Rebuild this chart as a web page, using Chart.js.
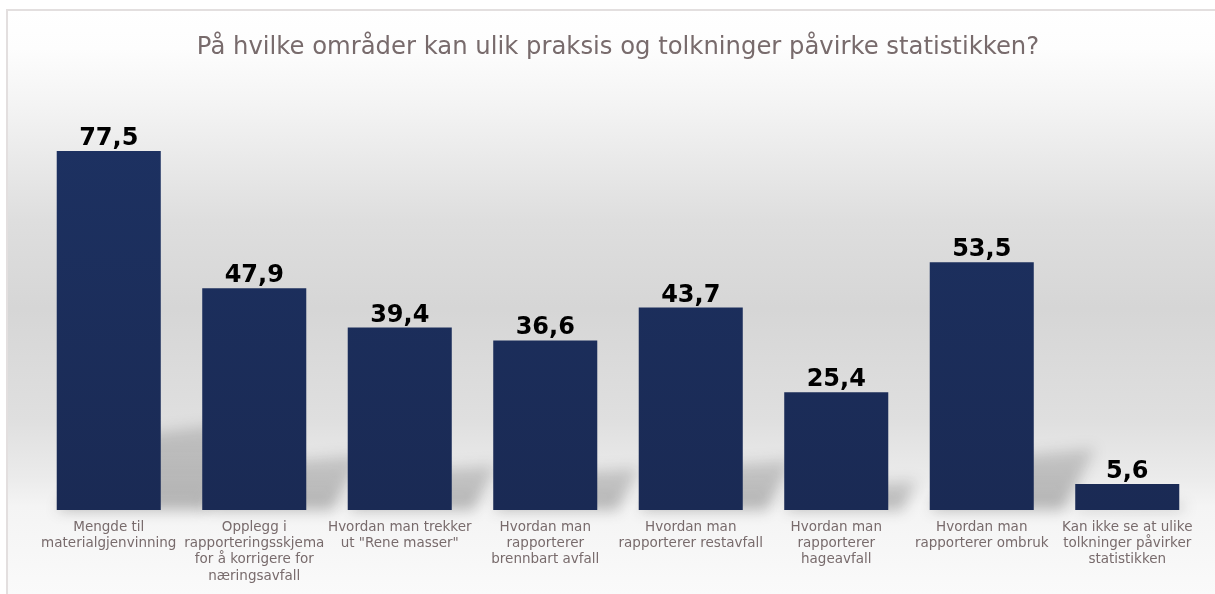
<!DOCTYPE html>
<html>
<head>
<meta charset="utf-8">
<script src="https://cdn.jsdelivr.net/npm/chart.js@4/dist/chart.umd.min.js"></script>
<style>
  html, body { margin: 0; padding: 0; width: 1215px; height: 594px; overflow: hidden; background: #fff; }
  #frame {
    position: absolute; left: 6px; top: 9px; width: 1207px; height: 583px;
    border-left: 2px solid #e3dfdf; border-top: 2px solid #e3dfdf;
    background: linear-gradient(to bottom, #ffffff 0%, #fdfdfd 6.5%, #f4f4f4 16%, #dedede 36%, #d6d6d6 51%, #dfdfdf 70%, #ebebeb 80%, #f4f4f4 85%, #fafafa 100%);
  }
  #chart { position: absolute; left: 0; top: 0; }
</style>
</head>
<body>
<div id="frame"></div>
<canvas id="chart" width="1215" height="594"></canvas>
<script>
// Data
var categories = [
  ['Mengde til', 'materialgjenvinning'],
  ['Opplegg i', 'rapporteringsskjema', 'for å korrigere for', 'næringsavfall'],
  ['Hvordan man trekker', 'ut "Rene masser"'],
  ['Hvordan man', 'rapporterer', 'brennbart avfall'],
  ['Hvordan man', 'rapporterer restavfall'],
  ['Hvordan man', 'rapporterer', 'hageavfall'],
  ['Hvordan man', 'rapporterer ombruk'],
  ['Kan ikke se at ulike', 'tolkninger påvirker', 'statistikken']
];
var values = [77.5, 47.9, 39.4, 36.6, 43.7, 25.4, 53.5, 5.6];
var yMin = 0;
var yMax = 90;

var TITLE = 'På hvilke områder kan ulik praksis og tolkninger påvirke statistikken?';
var TEXT_GRAY = '#786b6c';

// soft perspective shadow behind each bar
var barShadows = {
  id: 'barShadows',
  beforeDatasetsDraw: function(chart) {
    var ctx = chart.ctx;
    var meta = chart.getDatasetMeta(0);
    ctx.save();
    ctx.filter = 'blur(7px)';
    meta.data.forEach(function(bar) {
      var p = bar.getProps(['x', 'y', 'base', 'width'], true);
      var h = p.base - p.y;
      var x0 = p.x - p.width / 2;
      var x1 = p.x + p.width / 2;
      var g = ctx.createLinearGradient(0, p.base, 0, p.base - 0.25 * h);
      g.addColorStop(0, 'rgba(30, 30, 30, 0.30)');
      g.addColorStop(1, 'rgba(30, 30, 30, 0.16)');
      ctx.fillStyle = g;
      ctx.beginPath();
      ctx.moveTo(x0, p.base);
      ctx.lineTo(x1 + 0.12 * h, p.base);
      ctx.lineTo(x1 + 0.25 * h, p.base - 0.25 * h);
      ctx.lineTo(x0 + 0.15 * h, p.base - 0.2 * h);
      ctx.closePath();
      ctx.fill();
    });
    ctx.restore();
  }
};

// value labels on top of bars
var valueLabels = {
  id: 'valueLabels',
  afterDatasetsDraw: function(chart) {
    var ctx = chart.ctx;
    var meta = chart.getDatasetMeta(0);
    ctx.save();
    ctx.font = 'bold 24px "DejaVu Sans"';
    ctx.fillStyle = '#000';
    ctx.textAlign = 'center';
    ctx.textBaseline = 'alphabetic';
    meta.data.forEach(function(bar, i) {
      var txt = values[i].toFixed(1).replace('.', ',');
      ctx.fillText(txt, bar.x, bar.y - 6);
    });
    ctx.restore();
  }
};

var ctx = document.getElementById('chart');
var chart = new Chart(ctx, {
  type: 'bar',
  data: {
    labels: categories,
    datasets: [{
      data: values,
      backgroundColor: function(c) {
        var area = c.chart.chartArea;
        if (!area) return '#1b2e5b';
        var g = c.chart.ctx.createLinearGradient(0, area.top, 0, area.bottom);
        g.addColorStop(0, '#1d3263');
        g.addColorStop(1, '#1a2a54');
        return g;
      },
      borderWidth: 0,
      barPercentage: 0.715,
      categoryPercentage: 1
    }]
  },
  options: {
    responsive: false,
    animation: false,
    layout: { padding: { left: 36, right: 15, top: 0, bottom: 0 } },
    plugins: {
      legend: { display: false },
      tooltip: { enabled: false },
      title: {
        display: true,
        text: TITLE,
        color: TEXT_GRAY,
        font: { family: '"DejaVu Sans"', size: 24.3, weight: 'normal', lineHeight: 1.2 },
        padding: { top: 33, bottom: 31 }
      }
    },
    scales: {
      x: {
        grid: { display: false },
        border: { display: false },
        ticks: {
          color: TEXT_GRAY,
          font: { family: '"DejaVu Sans"', size: 13.5, lineHeight: 1.21 },
          autoSkip: false,
          maxRotation: 0,
          minRotation: 0,
          padding: 1
        },
        afterFit: function(scale) { scale.height = 84; }
      },
      y: {
        display: false,
        min: yMin,
        max: yMax
      }
    }
  },
  plugins: [barShadows, valueLabels]
});
</script>
</body>
</html>
